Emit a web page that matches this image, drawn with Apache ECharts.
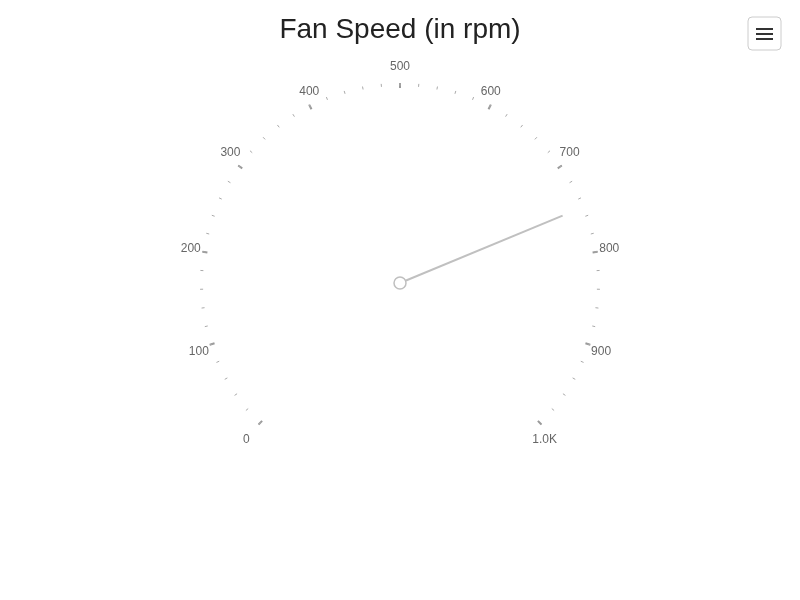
<!DOCTYPE html>
<html>
<head>
<meta charset="utf-8">
<script src="https://cdn.jsdelivr.net/npm/echarts@6/dist/echarts.min.js"></script>
<style>html,body{margin:0;padding:0;background:#fff;}#c{width:800px;height:600px;}</style>
</head>
<body>
<div id="c"></div>
<script>
var titleText = 'Fan Speed (in rpm)';
var axisMin = 0;
var axisMax = 1000;
var majorSplits = 10;
var seriesName = 'Speed';
var speedValues = [750];

var START_ANGLE = 225, END_ANGLE = -45;
var LABEL_FONT = '12px "Liberation Sans", Arial, sans-serif';

function fmt(v) { return v >= 1000 ? (v / 1000).toFixed(1) + 'K' : String(v); }

// Side-aligned labels: text anchored away from the dial on the left/right halves
var measureCtx = document.createElement('canvas').getContext('2d');
measureCtx.font = LABEL_FONT;
var rich = {t: {color: '#666666', fontSize: 12, fontFamily: 'Liberation Sans, Arial, sans-serif'}};
var sides = [];
var step = (axisMax - axisMin) / majorSplits;
for (var i = 0; i <= majorSplits; i++) {
  var v = axisMin + i * step;
  var ang = (START_ANGLE - (v - axisMin) / (axisMax - axisMin) * (START_ANGLE - END_ANGLE)) * Math.PI / 180;
  var c = Math.cos(ang);
  var w = measureCtx.measureText(fmt(v)).width;
  sides.push(c > 0.3 ? 1 : (c < -0.3 ? -1 : 0));
  rich['g' + i] = {fontSize: 12, width: Math.round(w), color: 'rgba(0,0,0,0)'};
}

var chart = echarts.init(document.getElementById('c'), null, {renderer: 'canvas'});
chart.setOption({
  backgroundColor: '#ffffff',
  animation: false,
  title: {
    text: titleText,
    left: 'center',
    top: 11,
    textStyle: {fontFamily: 'Liberation Sans, Arial, sans-serif', fontSize: 28, fontWeight: 'normal', color: '#222'}
  },
  graphic: [
    {type: 'rect', shape: {x: 748, y: 17, width: 33, height: 33, r: 4}, style: {fill: '#fff', stroke: '#cccccc', lineWidth: 1}},
    {type: 'rect', shape: {x: 756, y: 28, width: 17, height: 2}, style: {fill: '#333'}},
    {type: 'rect', shape: {x: 756, y: 33, width: 17, height: 2}, style: {fill: '#333'}},
    {type: 'rect', shape: {x: 756, y: 38, width: 17, height: 2}, style: {fill: '#333'}}
  ],
  series: [{
    type: 'gauge',
    name: seriesName,
    center: [400, 283],
    radius: 200,
    startAngle: START_ANGLE,
    endAngle: END_ANGLE,
    min: axisMin,
    max: axisMax,
    splitNumber: majorSplits,
    axisLine: {show: false, lineStyle: {width: 0}},
    splitLine: {show: true, distance: 0, length: 5, lineStyle: {color: '#999999', width: 2}},
    axisTick: {show: true, distance: 0, length: 3, splitNumber: 5, lineStyle: {color: '#aaaaaa', width: 1}},
    axisLabel: {
      show: true, distance: -27, color: '#666666', fontSize: 12,
      fontFamily: 'Liberation Sans, Arial, sans-serif',
      align: 'center', verticalAlign: 'middle',
      rich: rich,
      formatter: function (v) {
        var idx = Math.round((v - axisMin) / step);
        var txt = '{t|' + fmt(v) + '}';
        var gap = '{g' + idx + '|.}';
        if (sides[idx] > 0) return gap + txt;
        if (sides[idx] < 0) return txt + gap;
        return txt;
      }
    },
    pointer: {show: true, icon: 'rect', width: 2, length: 176, offsetCenter: [0, 0], itemStyle: {color: '#c0c0c0'}},
    anchor: {show: true, showAbove: true, size: 12, itemStyle: {color: '#ffffff', borderColor: '#bfbfbf', borderWidth: 1.5}},
    title: {show: false},
    detail: {show: false},
    data: speedValues.map(function (v) { return {value: v, name: ''}; })
  }]
});
</script>
</body>
</html>
